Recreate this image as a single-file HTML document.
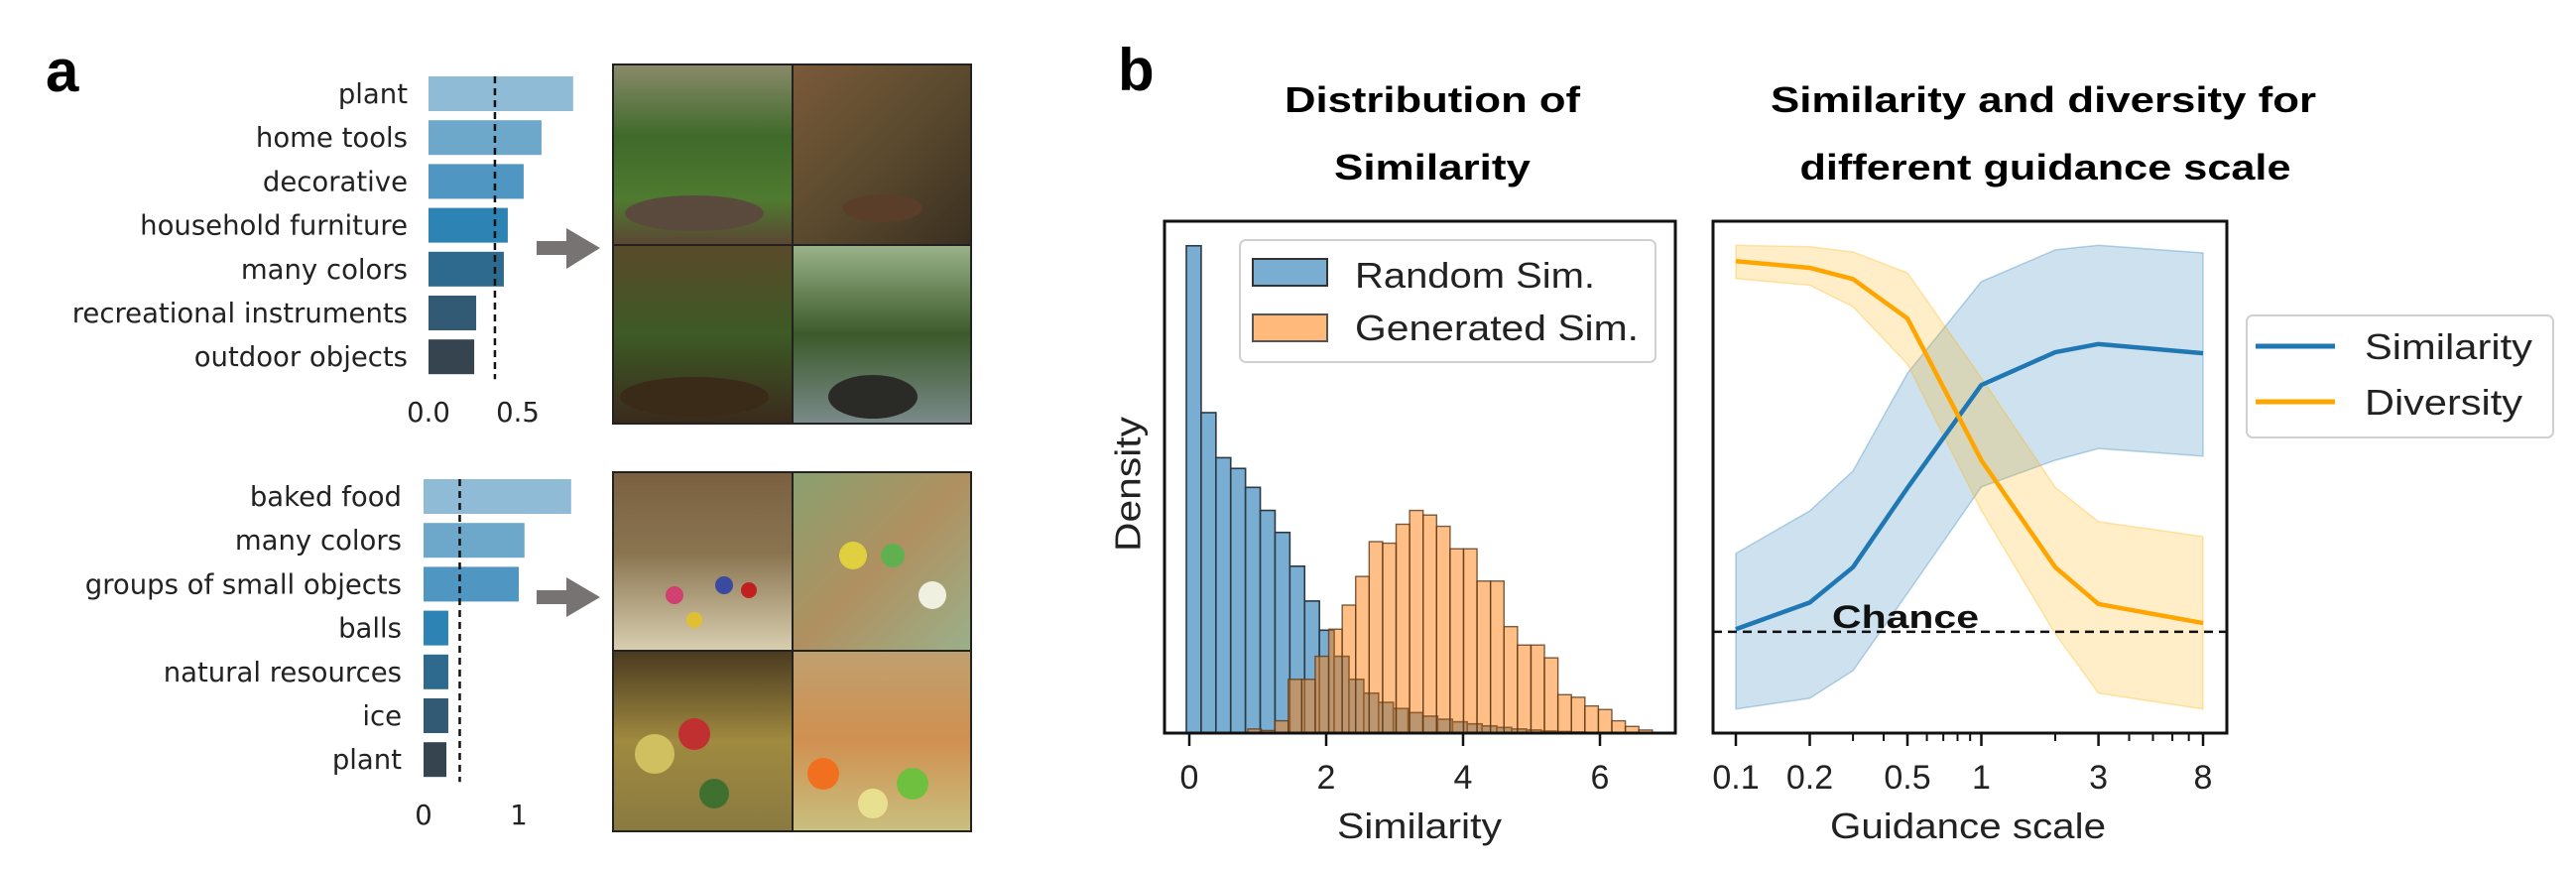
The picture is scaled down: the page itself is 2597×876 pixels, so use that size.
<!DOCTYPE html>
<html><head><meta charset="utf-8">
<style>
html,body{margin:0;padding:0;background:#fff;}
svg{display:block;}
.dj{font-family:"DejaVu Sans","Liberation Sans",sans-serif;}
.ls{font-family:"Liberation Sans",sans-serif;}
</style></head>
<body>
<svg id="fig" width="2597" height="876" viewBox="0 0 2597 876" xmlns="http://www.w3.org/2000/svg">
<defs>
<linearGradient id="g1" x1="0" y1="0" x2="0" y2="1"><stop offset="0" stop-color="#8a8a6a"/><stop offset="0.4" stop-color="#3f6a2a"/><stop offset="0.75" stop-color="#4f7a30"/><stop offset="1" stop-color="#5b4634"/></linearGradient>
<linearGradient id="g2" x1="0" y1="0" x2="1" y2="1"><stop offset="0" stop-color="#7a5a3a"/><stop offset="0.5" stop-color="#5b4a2e"/><stop offset="1" stop-color="#3a3020"/></linearGradient>
<linearGradient id="g3" x1="0" y1="0" x2="0" y2="1"><stop offset="0" stop-color="#5a4a2a"/><stop offset="0.5" stop-color="#3d5a25"/><stop offset="1" stop-color="#3a2a1c"/></linearGradient>
<linearGradient id="g4" x1="0" y1="0" x2="0" y2="1"><stop offset="0" stop-color="#9bb38a"/><stop offset="0.5" stop-color="#3b5a2a"/><stop offset="1" stop-color="#7a8a8a"/></linearGradient>
<linearGradient id="g5" x1="0" y1="0" x2="0" y2="1"><stop offset="0" stop-color="#7a6040"/><stop offset="0.45" stop-color="#8a7450"/><stop offset="1" stop-color="#d8cfb0"/></linearGradient>
<linearGradient id="g6" x1="0" y1="0" x2="1" y2="1"><stop offset="0" stop-color="#8aa070"/><stop offset="0.5" stop-color="#b09060"/><stop offset="1" stop-color="#9ab08a"/></linearGradient>
<linearGradient id="g7" x1="0" y1="0" x2="0" y2="1"><stop offset="0" stop-color="#4a3a20"/><stop offset="0.5" stop-color="#a08a40"/><stop offset="1" stop-color="#8a7a40"/></linearGradient>
<linearGradient id="g8" x1="0" y1="0" x2="0" y2="1"><stop offset="0" stop-color="#c0a070"/><stop offset="0.5" stop-color="#d09050"/><stop offset="1" stop-color="#c8c080"/></linearGradient>
</defs>

<text x="46" y="92" font-size="60" font-weight="bold" class="ls">a</text>
<text x="1127" y="91" font-size="60" font-weight="bold" class="ls">b</text>

<g id="barsTop"></g>
<g id="barsBot"></g>

<g><polygon points="541,243 571,243 571,230 605,250 571,271 571,257 541,257" fill="#777373"/></g>
<g><polygon points="541,595 571,595 571,582 605,602 571,622 571,609 541,609" fill="#777373"/></g>

<g>
<rect x="618" y="65" width="181" height="182" fill="url(#g1)"/>
<rect x="799" y="65" width="180" height="182" fill="url(#g2)"/>
<rect x="618" y="247" width="181" height="180" fill="url(#g3)"/>
<rect x="799" y="247" width="180" height="180" fill="url(#g4)"/>
<ellipse cx="700" cy="215" rx="70" ry="18" fill="#5a4a3e"/>
<ellipse cx="890" cy="210" rx="40" ry="14" fill="#5a3e2a"/>
<ellipse cx="880" cy="400" rx="45" ry="22" fill="#2a2a26"/>
<ellipse cx="700" cy="400" rx="75" ry="20" fill="#3a2a18"/>
<rect x="618" y="65" width="361" height="362" fill="none" stroke="#222" stroke-width="2"/>
<line x1="799" y1="65" x2="799" y2="427" stroke="#222" stroke-width="2"/>
<line x1="618" y1="247" x2="979" y2="247" stroke="#222" stroke-width="2"/>
</g>
<g>
<rect x="618" y="476" width="181" height="180" fill="url(#g5)"/>
<rect x="799" y="476" width="180" height="180" fill="url(#g6)"/>
<rect x="618" y="656" width="181" height="182" fill="url(#g7)"/>
<rect x="799" y="656" width="180" height="182" fill="url(#g8)"/>
<circle cx="680" cy="600" r="9" fill="#d04070"/><circle cx="730" cy="590" r="9" fill="#3a4aa0"/><circle cx="755" cy="595" r="8" fill="#c02020"/><circle cx="700" cy="625" r="8" fill="#e0c030"/>
<circle cx="860" cy="560" r="14" fill="#e0d040"/><circle cx="900" cy="560" r="12" fill="#60b050"/><circle cx="940" cy="600" r="14" fill="#f0f0e0"/>
<circle cx="660" cy="760" r="20" fill="#d0c060"/><circle cx="700" cy="740" r="16" fill="#c03030"/><circle cx="720" cy="800" r="15" fill="#407030"/>
<circle cx="830" cy="780" r="16" fill="#f07020"/><circle cx="880" cy="810" r="15" fill="#e8e090"/><circle cx="920" cy="790" r="16" fill="#70c040"/>
<rect x="618" y="476" width="361" height="362" fill="none" stroke="#222" stroke-width="2"/>
<line x1="799" y1="476" x2="799" y2="838" stroke="#222" stroke-width="2"/>
<line x1="618" y1="656" x2="979" y2="656" stroke="#222" stroke-width="2"/>
</g>

<g class="ls" font-weight="bold" font-size="36" text-anchor="middle">
<text x="1444" y="113" textLength="298" lengthAdjust="spacingAndGlyphs">Distribution of</text>
<text x="1444" y="181" textLength="198" lengthAdjust="spacingAndGlyphs">Similarity</text>
</g>
<g class="ls" font-weight="bold" font-size="36" text-anchor="middle">
<text x="2060" y="113" textLength="550" lengthAdjust="spacingAndGlyphs">Similarity and diversity for</text>
<text x="2062" y="181" textLength="495" lengthAdjust="spacingAndGlyphs">different guidance scale</text>
</g>

<g id="hist"></g>
<g id="lines"></g>

<text x="1140" y="488" transform="rotate(-90 1140 488)" text-anchor="middle" dominant-baseline="middle" font-size="36" class="ls" textLength="136" lengthAdjust="spacingAndGlyphs" fill="#222">Density</text>
<text x="1431" y="845" text-anchor="middle" font-size="36" class="ls" textLength="166" lengthAdjust="spacingAndGlyphs" fill="#222">Similarity</text>
<text x="1984" y="845" text-anchor="middle" font-size="36" class="ls" textLength="278" lengthAdjust="spacingAndGlyphs" fill="#222">Guidance scale</text>

<g>
<rect x="1250" y="242" width="419" height="123" rx="6" fill="#fff" fill-opacity="0.85" stroke="#d0d0d0" stroke-width="2"/>
<rect x="1263" y="261" width="75" height="27" fill="#79add2" stroke="#333" stroke-width="2"/>
<rect x="1263" y="317" width="75" height="27" fill="#ffb97a" stroke="#555" stroke-width="2"/>
<text x="1366" y="290" font-size="36" class="ls" textLength="242" lengthAdjust="spacingAndGlyphs" fill="#222">Random Sim.</text>
<text x="1366" y="343" font-size="36" class="ls" textLength="286" lengthAdjust="spacingAndGlyphs" fill="#222">Generated Sim.</text>
</g>
<g>
<rect x="2265" y="318" width="309" height="123" rx="6" fill="#fff" stroke="#d0d0d0" stroke-width="2"/>
<line x1="2274" y1="349" x2="2354" y2="349" stroke="#1f77b4" stroke-width="5"/>
<line x1="2274" y1="405" x2="2354" y2="405" stroke="#ffa500" stroke-width="5"/>
<text x="2384" y="362" font-size="36" class="ls" textLength="169" lengthAdjust="spacingAndGlyphs" fill="#222">Similarity</text>
<text x="2384" y="418" font-size="36" class="ls" textLength="159" lengthAdjust="spacingAndGlyphs" fill="#222">Diversity</text>
</g>
</svg>

<script>
// ---- Panel a data ----
const topCats = ["plant","home tools","decorative","household furniture","many colors","recreational instruments","outdoor objects"];
const topVals = [0.81,0.633,0.533,0.444,0.422,0.267,0.256];
const topRef = [0.372];
const topTicks = [0,0.5];
const topTickLabels = ["0.0","0.5"];
const botCats = ["baked food","many colors","groups of small objects","balls","natural resources","ice","plant"];
const botVals = [1.55,1.06,1.0,0.26,0.26,0.26,0.24];
const botRef = [0.38];
const botTicks = [0,1];
const botTickLabels = ["0","1"];
// ---- Histogram data ----
const blueStart = [-0.043];
const blueWidth = [0.216];
const blueDens = [0.952,0.626,0.538,0.517,0.480,0.435,0.392,0.326,0.258,0.201,0.15,0.105,0.078,0.06,0.048,0.04,0.033,0.027,0.022,0.018,0.014,0.011,0.008,0.006,0.004,0.003,0.002,0.001];
const orangeStart = [0.855];
const orangeWidth = [0.197];
const orangeDens = [0.008,0.005,0.024,0.105,0.105,0.15,0.203,0.25,0.306,0.374,0.371,0.408,0.435,0.426,0.404,0.36,0.36,0.297,0.297,0.208,0.172,0.172,0.147,0.075,0.07,0.053,0.046,0.024,0.013,0.006];
const histTicks = [0,2,4,6];
const histTickLabels = ["0","2","4","6"];
// ---- Line chart data ----
const guidance = [0.1,0.2,0.3,0.5,1,2,3,8];
const simMean = [0.203,0.255,0.324,0.479,0.68,0.744,0.76,0.742];
const simHi = [0.351,0.434,0.512,0.703,0.882,0.944,0.953,0.938];
const simLo = [0.047,0.068,0.122,0.273,0.481,0.533,0.556,0.541];
const divMean = [0.922,0.909,0.887,0.81,0.533,0.324,0.252,0.215];
const divHi = [0.953,0.95,0.94,0.899,0.694,0.48,0.413,0.384];
const divLo = [0.888,0.875,0.833,0.721,0.435,0.194,0.078,0.047];
const chance = [0.198];
const lineTicks = [0.1,0.2,0.5,1,3,8];
const lineTickLabels = ["0.1","0.2","0.5","1","3","8"];
const minorTicks = [0.3,0.4,0.6,0.7,0.8,0.9,2,4,5,6,7];

const NS = "http://www.w3.org/2000/svg";
function mk(tag, parent){ const e=document.createElementNS(NS,tag); parent.appendChild(e); return e; }
function set(e, o){ for(const k in o) e.setAttribute(k,o[k]); return e; }

// ---- Panel a ----
const topColors = ["#8fbbd6","#6da8cb","#4f96c2","#2d83b3","#2e6a8e","#335a75","#36444f"];
function barPanel(gid, cats, vals, ref, ticks, tlabels, x0, unit, y0, labelRight, tickY){
  const g=document.getElementById(gid);
  const xs=v=>x0+unit*v;
  cats.forEach((c,i)=>{
    const y=y0+44.2*i;
    const r=mk("rect",g);
    set(r,{x:xs(0),y:y,width:xs(vals[i])-xs(0),height:35,fill:topColors[i]});
    
    
    const t=mk("text",g);
    set(t,{x:labelRight,y:y+27,"text-anchor":"end","font-size":27.5,"class":"dj",fill:"#222"});
    t.textContent=c;
    
    
  });
  const l=mk("line",g);
  set(l,{x1:xs(ref[0]),x2:xs(ref[0]),y1:y0,y2:y0+44.2*(cats.length-1)+40,stroke:"#111","stroke-width":2.5,"stroke-dasharray":"7,5"});
  
  
  ticks.forEach((v,i)=>{
    const t=mk("text",g);
    set(t,{x:xs(v),y:tickY,"text-anchor":"middle","font-size":27.5,"class":"dj",fill:"#222"});
    t.textContent=tlabels[i];
    
    
  });
}
barPanel("barsTop",topCats,topVals,topRef,topTicks,topTickLabels,432,180,77,411,425);
barPanel("barsBot",botCats,botVals,botRef,botTicks,botTickLabels,427,96,483,405,831);

// ---- Histogram ----
(function(){
  const g=document.getElementById("hist");
  const hx=u=>1199+69*u, hy=f=>739-516*f;
  blueDens.forEach((d,i)=>{
    const a=blueStart[0]+blueWidth[0]*i, r=mk("rect",g);
    set(r,{x:hx(a),y:hy(d),width:hx(a+blueWidth[0])-hx(a),height:hy(0)-hy(d),fill:"#79add2",stroke:"#2a3a44","stroke-width":1.6});
    
    
  });
  orangeDens.forEach((d,i)=>{
    const a=orangeStart[0]+orangeWidth[0]*i, r=mk("rect",g);
    set(r,{x:hx(a),y:hy(d),width:hx(a+orangeWidth[0])-hx(a),height:hy(0)-hy(d),fill:"#ff7f0e","fill-opacity":0.5,stroke:"#5a3a1a","stroke-opacity":0.8,"stroke-width":1.4});
    
    
  });
  const f=mk("rect",g);
  set(f,{x:1174,y:223,width:515,height:516,fill:"none",stroke:"#111","stroke-width":3});
  
  
  histTicks.forEach((v,i)=>{
    const l=mk("line",g);
    set(l,{x1:hx(v),x2:hx(v),y1:739,y2:752,stroke:"#111","stroke-width":2.5});
    
    
    const t=mk("text",g);
    set(t,{x:hx(v),y:795,"text-anchor":"middle","font-size":34,"class":"ls",fill:"#222"});
    t.textContent=histTickLabels[i];
    
    
  });
})();

// ---- Line chart ----
(function(){
  const g=document.getElementById("lines");
  const lx=v=>1750+247.5*Math.log10(v/0.1), ly=v=>739-516*v;
  function band(hi,lo,fill,name){
    let d="M"+guidance.map((x,i)=>lx(x)+","+ly(hi[i])).join("L");
    d+="L"+guidance.slice().reverse().map((x,j)=>{const i=guidance.length-1-j;return lx(x)+","+ly(lo[i]);}).join("L")+"Z";
    const p=mk("path",g);
    set(p,{d:d,fill:fill,"fill-opacity":0.22,stroke:fill,"stroke-opacity":0.3,"stroke-width":1.5});
    
    
  }
  band(simHi,simLo,"#1f77b4","similarity-band");
  band(divHi,divLo,"#ffb000","diversity-band");
  const c=mk("line",g);
  set(c,{x1:1727,x2:2245,y1:ly(chance[0]),y2:ly(chance[0]),stroke:"#111","stroke-width":2.5,"stroke-dasharray":"9,6"});
  
  
  const ct=mk("text",g);
  set(ct,{x:1847,y:ly(chance[0])-4,"font-size":32,"font-weight":"bold","class":"ls",textLength:148,lengthAdjust:"spacingAndGlyphs",fill:"#111"});
  ct.textContent="Chance";
  
  
  function line(vals,col,name){
    const p=mk("polyline",g);
    set(p,{points:guidance.map((x,i)=>lx(x)+","+ly(vals[i])).join(" "),fill:"none",stroke:col,"stroke-width":4.5,"stroke-linejoin":"round"});
    
    
  }
  line(simMean,"#1f77b4","similarity-line");
  line(divMean,"#ffa500","diversity-line");
  const f=mk("rect",g);
  set(f,{x:1727,y:223,width:518,height:516,fill:"none",stroke:"#111","stroke-width":3});
  
  
  minorTicks.forEach(v=>{
    const l=mk("line",g);
    set(l,{x1:lx(v),x2:lx(v),y1:739,y2:747,stroke:"#111","stroke-width":2});
    
    
  });
  lineTicks.forEach((v,i)=>{
    const l=mk("line",g);
    set(l,{x1:lx(v),x2:lx(v),y1:739,y2:752,stroke:"#111","stroke-width":2.5});
    
    
    const t=mk("text",g);
    set(t,{x:lx(v),y:795,"text-anchor":"middle","font-size":34,"class":"ls",fill:"#222"});
    t.textContent=lineTickLabels[i];
    
    
  });
})();
</script>
</body></html>
